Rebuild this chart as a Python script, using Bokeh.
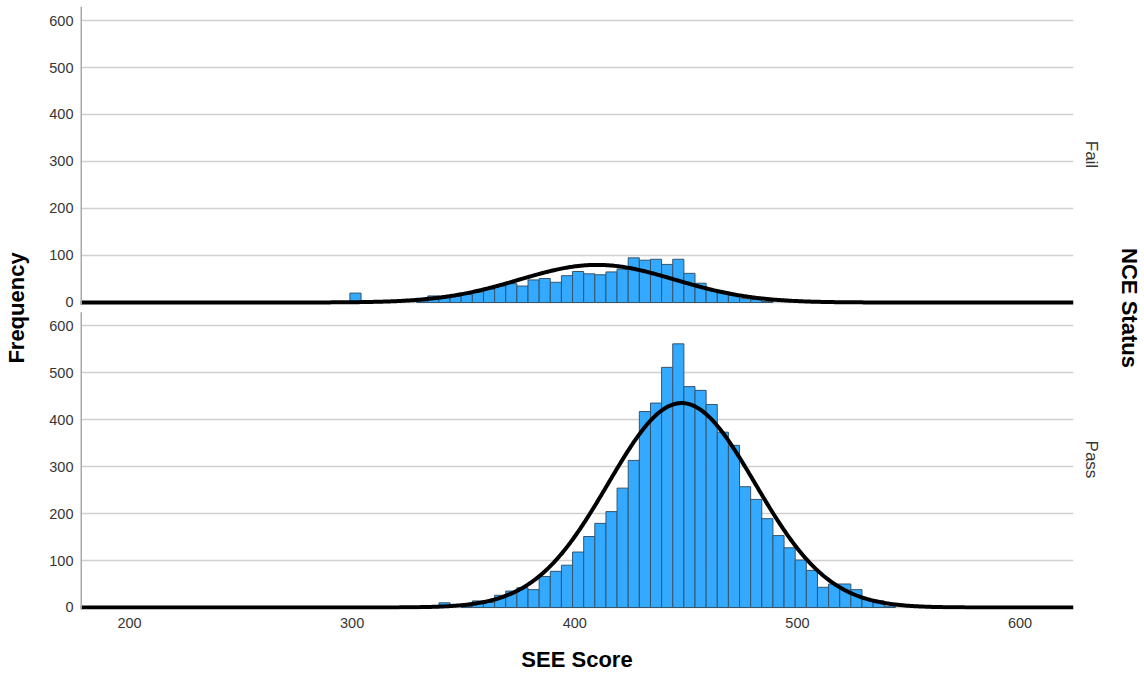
import numpy as np
from bokeh.plotting import figure
from bokeh.models import ColumnDataSource, FixedTicker, LinearAxis, Range1d
from bokeh.embed import file_html
from bokeh.resources import INLINE

# ---------------- data ----------------
bin_start = [299, 304, 309, 314, 319, 324, 329, 334, 339, 344, 349, 354, 359,
             364, 369, 374, 379, 384, 389, 394, 399, 404, 409, 414, 419, 424,
             429, 434, 439, 444, 449, 454, 459, 464, 469, 474, 479, 484, 489,
             494, 499, 504, 509, 514, 519, 524, 529, 534, 539]
bin_width = 5

fail_counts = [20, 0, 0, 0, 0, 0, 3, 14, 10, 13, 17, 22, 28,
               35, 40, 35, 48, 51, 43, 57, 66, 61, 59, 65, 71, 95,
               90, 92, 81, 92, 62, 41, 26, 22, 16, 8, 6, 2, 0,
               0, 0, 0, 0, 0, 0, 0, 0, 0, 0]
pass_counts = [0, 0, 0, 0, 0, 0, 0, 0, 10, 0, 2, 14, 11,
               26, 35, 42, 38, 66, 77, 90, 118, 151, 179, 204, 254, 313,
               417, 435, 511, 561, 470, 462, 432, 373, 345, 257, 230, 189, 153,
               127, 101, 79, 43, 50, 50, 38, 17, 14, 3]

# normal curves (mean, sd, peak height)
fail_curve = (410, 35, 80)
pass_curve = (448, 33, 435)

panel_names = ["Fail", "Pass"]
x_ticks = [200, 300, 400, 500, 600]
y_ticks = [0, 100, 200, 300, 400, 500, 600]

x_title = "SEE Score"
y_title = "Frequency"
facet_title = "NCE Status"

# ---------------- layout constants ----------------
X0, X1 = 178, 624
OFFSET = 649            # vertical offset of the upper (Fail) panel
PANEL_TOP = 628
Y0, Y1 = -4.26, 1278.8

FONT = "Liberation Sans"
BAR_FILL = "#33aaff"
BAR_LINE = "#34546c"
GRID = "#d0d0d0"
TEXT = "#363636"

W, H = 1144, 675
ML, MR, MT, MB = 80, 71, 6, 66

p = figure(width=W, height=H, output_backend="svg", toolbar_location=None,
           x_range=Range1d(X0, X1), y_range=Range1d(Y0, Y1),
           min_border_left=ML, min_border_right=MR, min_border_top=MT,
           min_border_bottom=MB)
p.outline_line_color = None
p.background_fill_color = "white"
p.border_fill_color = "white"

# grid lines for both panels
grid_ticks = [t for t in y_ticks] + [t + OFFSET for t in y_ticks]
p.xgrid.visible = False
p.ygrid.ticker = FixedTicker(ticks=grid_ticks)
p.ygrid.grid_line_color = GRID
p.ygrid.grid_line_width = 1.5

# bars
left = np.array(bin_start, dtype=float)
right = left + bin_width
for counts, off in [(fail_counts, OFFSET), (pass_counts, 0)]:
    c = np.array(counts, dtype=float)
    mask = c > 0
    src = ColumnDataSource(dict(left=left[mask], right=right[mask],
                                bottom=np.full(mask.sum(), off),
                                top=c[mask] + off))
    p.quad(left="left", right="right", bottom="bottom", top="top", source=src,
           fill_color=BAR_FILL, line_color=BAR_LINE, line_width=1)

# normal curves
xs = np.linspace(X0, X1, 800)
for (mu, sd, pk), off in [(fail_curve, OFFSET), (pass_curve, 0)]:
    ys = pk * np.exp(-0.5 * ((xs - mu) / sd) ** 2) + off
    p.line(xs, ys, line_color="black", line_width=4, line_join="round")

# y axis line pieces (one per panel)
p.segment(x0=[X0, X0], x1=[X0, X0], y0=[OFFSET - 4, Y0], y1=[Y1, PANEL_TOP],
          line_color="#a9a9a9", line_width=3)


def style_axis(ax, ticks, standoff, size):
    ax.ticker = FixedTicker(ticks=ticks)
    ax.axis_line_color = None
    ax.major_tick_line_color = None
    ax.minor_tick_line_color = None
    ax.major_tick_out = 0
    ax.major_tick_in = 0
    ax.minor_tick_out = 0
    ax.minor_tick_in = 0
    ax.major_label_standoff = standoff
    ax.major_label_text_font = FONT
    ax.major_label_text_font_size = size
    ax.major_label_text_color = TEXT
    ax.axis_label_text_font = FONT
    ax.axis_label_text_font_size = "22px"
    ax.axis_label_text_font_style = "bold"
    ax.axis_label_text_color = "black"


# left axis
ya = p.yaxis[0]
style_axis(ya, grid_ticks, 7, "14.5px")
ya.major_label_overrides = {t: str(v) for t, v in
                            zip(grid_ticks, y_ticks + y_ticks)}
ya.axis_label = y_title
ya.axis_label_standoff = 17

# bottom axis
xa = p.xaxis[0]
style_axis(xa, x_ticks, 8, "14.5px")
xa.axis_label = x_title
xa.axis_label_standoff = 16

# right facet axis
facet_ticks = [OFFSET + 315, 315]
ra = LinearAxis()
style_axis(ra, facet_ticks, 8, "17px")
ra.major_label_overrides = {t: n for t, n in zip(facet_ticks, panel_names)}
ra.major_label_orientation = "parallel"
ra.axis_label = facet_title
ra.axis_label_standoff = 13
p.add_layout(ra, "right")

open("out.html", "w").write(file_html(p, INLINE))
